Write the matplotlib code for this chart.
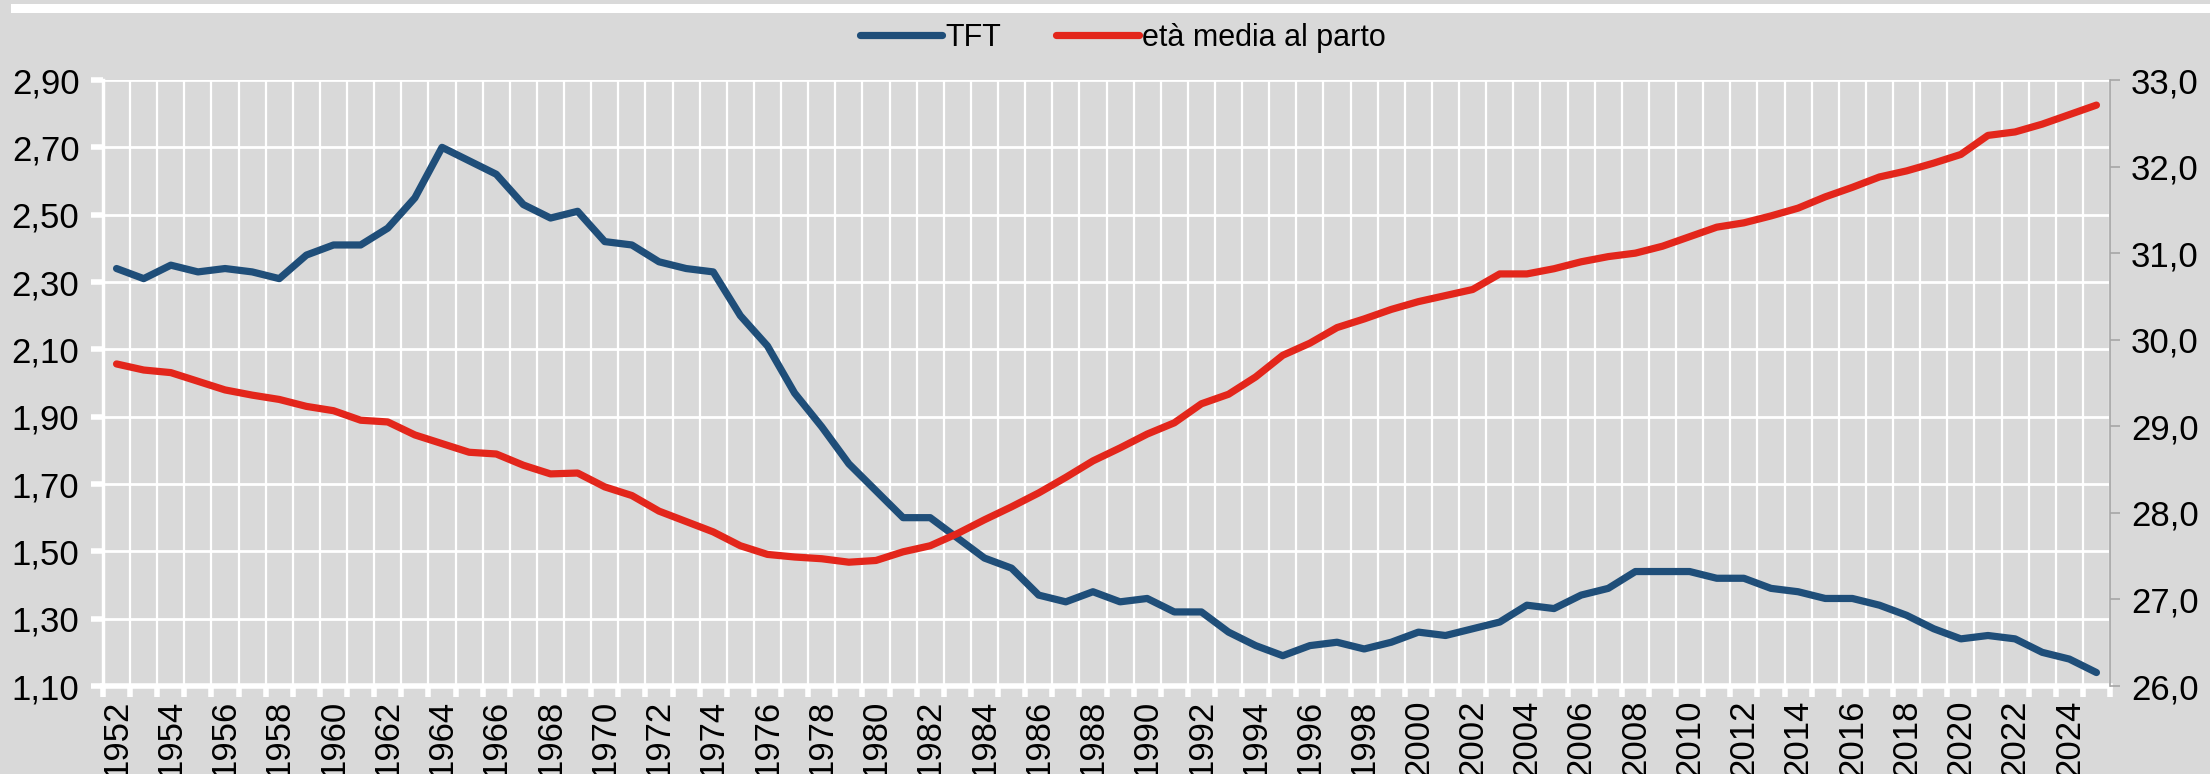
import matplotlib
matplotlib.use('Agg')
import matplotlib.pyplot as plt
from matplotlib.patches import Rectangle
import numpy as np

plt.rcParams['font.family'] = ['Liberation Sans', 'DejaVu Sans']

# data
years = list(range(1952, 2026))

tft = [2.34, 2.31, 2.35, 2.33, 2.34, 2.33, 2.31, 2.38, 2.41, 2.41,
       2.46, 2.55, 2.70, 2.66, 2.62, 2.53, 2.49, 2.51, 2.42, 2.41,
       2.36, 2.34, 2.33, 2.20, 2.11, 1.97, 1.87, 1.76, 1.68, 1.60,
       1.60, 1.54, 1.48, 1.45, 1.37, 1.35, 1.38, 1.35, 1.36, 1.32,
       1.32, 1.26, 1.22, 1.19, 1.22, 1.23, 1.21, 1.23, 1.26, 1.25,
       1.27, 1.29, 1.34, 1.33, 1.37, 1.39, 1.44, 1.44, 1.44, 1.42,
       1.42, 1.39, 1.38, 1.36, 1.36, 1.34, 1.31, 1.27, 1.24, 1.25,
       1.24, 1.20, 1.18, 1.14]

eta_media = [29.72, 29.65, 29.62, 29.52, 29.42, 29.36, 29.31, 29.23, 29.18, 29.07,
             29.05, 28.90, 28.80, 28.70, 28.68, 28.55, 28.45, 28.46, 28.30, 28.20,
             28.02, 27.90, 27.78, 27.62, 27.52, 27.49, 27.47, 27.43, 27.45, 27.55,
             27.62, 27.76, 27.92, 28.07, 28.23, 28.41, 28.60, 28.75, 28.91, 29.04,
             29.26, 29.37, 29.57, 29.82, 29.96, 30.14, 30.24, 30.35, 30.44, 30.51,
             30.58, 30.76, 30.76, 30.82, 30.90, 30.96, 31.00, 31.08, 31.19, 31.30,
             31.35, 31.43, 31.52, 31.65, 31.76, 31.88, 31.95, 32.04, 32.14, 32.36,
             32.40, 32.49, 32.60, 32.71]

left_ticks = [1.10, 1.30, 1.50, 1.70, 1.90, 2.10, 2.30, 2.50, 2.70, 2.90]
right_ticks = [26, 27, 28, 29, 30, 31, 32, 33]

bg = '#d9d9d9'
blue = '#1f4e79'
red = '#e3261b'
fs = 25

fig = plt.figure(figsize=(22.1, 7.74), dpi=100, facecolor=bg)
# white band along the top edge
fig.patches.append(Rectangle((11 / 2210, 1 - 13 / 774), 1, 9 / 774,
                             transform=fig.transFigure, facecolor='white',
                             edgecolor='none'))

ax = fig.add_axes([103 / 2210, 1 - 686 / 774, (2110 - 103) / 2210, (686 - 80) / 774])
ax.set_facecolor(bg)
ax2 = ax.twinx()
ax2.patch.set_visible(False)

x = np.arange(len(years))
l1, = ax.plot(x, tft, color=blue, lw=5.2, solid_joinstyle='round',
              solid_capstyle='round', label='TFT')
l2, = ax2.plot(x, eta_media, color=red, lw=5.2, solid_joinstyle='round',
               solid_capstyle='round', label='età media al parto')

# x axis: categories, ticks between them, labels every 2 years
ax.set_xlim(-0.5, len(years) - 0.5)
ax.set_xticks(np.arange(-0.5, len(years), 1.0), minor=True)
ax.set_xticks(x[::2])
ax.set_xticklabels([str(y) for y in years[::2]], rotation=90, fontsize=fs)
ax.tick_params(axis='x', which='major', length=0, pad=10)
ax.tick_params(axis='x', which='minor', length=8, width=4, color='white',
               direction='out')
ax.grid(True, axis='x', which='minor', color='white', lw=1.6)

# left axis
ax.set_ylim(1.10, 2.90)
ax.set_yticks(left_ticks)
ax.set_yticklabels([f'{v:.2f}'.replace('.', ',') for v in left_ticks], fontsize=fs)
ax.tick_params(axis='y', length=9, width=4, color='white', pad=8)
ax.grid(True, axis='y', color='white', lw=2)
ax.set_axisbelow(True)

# right axis
ax2.set_ylim(26, 33)
ax2.set_yticks(right_ticks)
ax2.set_yticklabels([f'{v:.1f}'.replace('.', ',') for v in right_ticks], fontsize=fs)
ax2.tick_params(axis='y', length=7, width=1.2, color='#a6a6a6', pad=8)

for a in (ax, ax2):
    a.spines['top'].set_visible(False)
ax.spines['right'].set_visible(False)
ax2.spines['left'].set_visible(False)
ax2.spines['bottom'].set_visible(False)
ax2.spines['right'].set_color('#a6a6a6')
ax2.spines['right'].set_linewidth(1.2)
ax.spines['left'].set_color('white')
ax.spines['left'].set_linewidth(2.5)
ax.spines['bottom'].set_color('white')
ax.spines['bottom'].set_linewidth(4)

fig.legend(handles=[l1, l2], loc='center', bbox_to_anchor=(0.508, 0.951),
           ncol=2, frameon=False, fontsize=22, handlelength=2.7,
           handletextpad=0.1, columnspacing=1.8)

fig.savefig('out.png', dpi=100, facecolor=bg)
